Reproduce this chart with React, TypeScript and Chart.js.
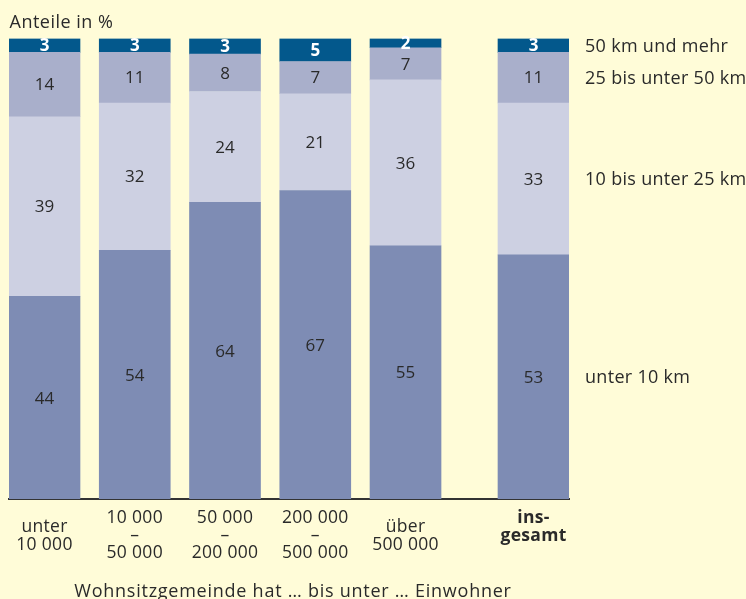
import React, { useEffect, useRef } from 'react';
import { Chart, registerables, CategoryScale } from 'chart.js';

// ---- data ----
const categories: string[][] = [
  ['unter', '10 000'],
  ['10 000', '–', '50 000'],
  ['50 000', '–', '200 000'],
  ['200 000', '–', '500 000'],
  ['über', '500 000'],
  ['ins-', 'gesamt', ''],
];
const boldCategory = [false, false, false, false, false, true];
const seriesNames = ['unter 10 km', '10 bis unter 25 km', '25 bis unter 50 km', '50 km und mehr'];
const under10 = [44, 54, 64.4, 67, 55, 53];
const from10to25 = [39, 32, 24.1, 21, 36, 33];
const from25to50 = [14, 11, 8.1, 7, 7, 11];
const over50 = [3, 3, 3.4, 5, 2, 3];
const yTitle = 'Anteile in %';
const xTitle = 'Wohnsitzgemeinde hat … bis unter … Einwohner';

// ---- styles ----
const FONT = '"Open Sans", "Noto Sans", sans-serif';
const TEXT = '#2a2a2a';
const BG = '#FFFCD8';
const COLORS = ['#7E8CB4', '#CDD0E2', '#A9AFCB', '#03588C'];
const BAR_W = 71;
const GAP_SLOTS = 0.418;

class GapCategoryScale extends CategoryScale {
  static id = 'gapcategory';
  static defaults = CategoryScale.defaults;
  getPixelForValue(value: any) {
    if (typeof value !== 'number') value = (this as any).parse(value);
    if (value === null || value === undefined || isNaN(value)) return NaN;
    const min = (this as any).min as number;
    const max = (this as any).max as number;
    const pos = value - min + (value >= max && max > min ? GAP_SLOTS : 0);
    const total = max - min + GAP_SLOTS;
    const inner = (this as any).width - BAR_W;
    return (this as any).left + BAR_W / 2 + (inner * pos) / total;
  }
}

Chart.register(...registerables, GapCategoryScale as any);

const setSpacing = (ctx: any, v: string) => {
  if ('letterSpacing' in ctx) ctx.letterSpacing = v;
};

const labelPlugin = {
  id: 'customLabels',
  afterDraw(chart: any) {
    const ctx = chart.ctx as CanvasRenderingContext2D;
    const area = chart.chartArea;
    ctx.save();
    chart.data.datasets.forEach((ds: any, di: number) => {
      const meta = chart.getDatasetMeta(di);
      const top = di === chart.data.datasets.length - 1;
      setSpacing(ctx, '0px');
      meta.data.forEach((el: any, i: number) => {
        const p = el.getProps(['x', 'y', 'base'], true);
        ctx.font = top ? `bold 17px ${FONT}` : `17px ${FONT}`;
        ctx.fillStyle = top ? '#ffffff' : TEXT;
        ctx.textAlign = 'center';
        ctx.textBaseline = 'middle';
        ctx.fillText(String(Math.round(ds.data[i])), p.x, (p.y + p.base) / 2 + 1);
      });
      const last = meta.data[meta.data.length - 1].getProps(['y', 'base'], true);
      ctx.font = `18px ${FONT}`;
      setSpacing(ctx, '0.3px');
      ctx.fillStyle = TEXT;
      ctx.textAlign = 'left';
      ctx.textBaseline = 'middle';
      ctx.fillText(seriesNames[di], area.right + 16, (last.y + last.base) / 2 + 1);
    });
    // x category labels
    const xs = chart.scales.x;
    const lh = 17.5;
    setSpacing(ctx, '0.3px');
    categories.forEach((lines, i) => {
      const cx = xs.getPixelForValue(i);
      const n = lines.length;
      ctx.font = boldCategory[i] ? `bold 17.5px ${FONT}` : `17.5px ${FONT}`;
      ctx.fillStyle = TEXT;
      ctx.textAlign = 'center';
      ctx.textBaseline = 'middle';
      lines.forEach((t, li) => {
        ctx.fillText(t, cx, area.bottom + 37 + (li - (n - 1) / 2) * lh);
      });
    });
    // titles
    ctx.font = `18px ${FONT}`;
    setSpacing(ctx, '0.5px');
    ctx.textAlign = 'left';
    ctx.textBaseline = 'alphabetic';
    ctx.fillText(yTitle, area.left + 0.5, 28);
    setSpacing(ctx, '0.75px');
    ctx.textAlign = 'center';
    ctx.fillText(xTitle, (area.left + area.right) / 2 + 4, 597);
    ctx.restore();
  },
};

export default function App() {
  const ref = useRef<HTMLCanvasElement | null>(null);
  useEffect(() => {
    document.body.style.margin = '0';
    document.body.style.overflow = 'hidden';
    document.body.style.background = BG;
    const canvas = ref.current!;
    const data = [under10, from10to25, from25to50, over50];
    const chart = new Chart(canvas, {
      type: 'bar',
      data: {
        labels: categories as any,
        datasets: data.map((d, i) => ({
          label: seriesNames[i],
          data: d,
          backgroundColor: COLORS[i],
          borderWidth: 0,
          barThickness: BAR_W,
        })),
      },
      options: {
        responsive: false,
        animation: false,
        events: [],
        layout: { padding: { left: 9, right: 177, top: 38.5, bottom: 100 } },
        plugins: { legend: { display: false }, tooltip: { enabled: false }, title: { display: false } },
        scales: {
          x: {
            type: 'gapcategory' as any,
            stacked: true,
            z: 1,
            grid: { display: false, drawTicks: false },
            border: { display: true, color: '#333333', width: 2 },
            ticks: { display: false },
          },
          y: { stacked: true, display: false, min: 0, max: 100 },
        },
      },
      plugins: [labelPlugin],
    } as any);
    return () => chart.destroy();
  }, []);
  return (
    <div style={{ width: 746, height: 599, background: BG }}>
      <canvas ref={ref} width={746} height={599} style={{ display: 'block', width: 746, height: 599 }} />
    </div>
  );
}
